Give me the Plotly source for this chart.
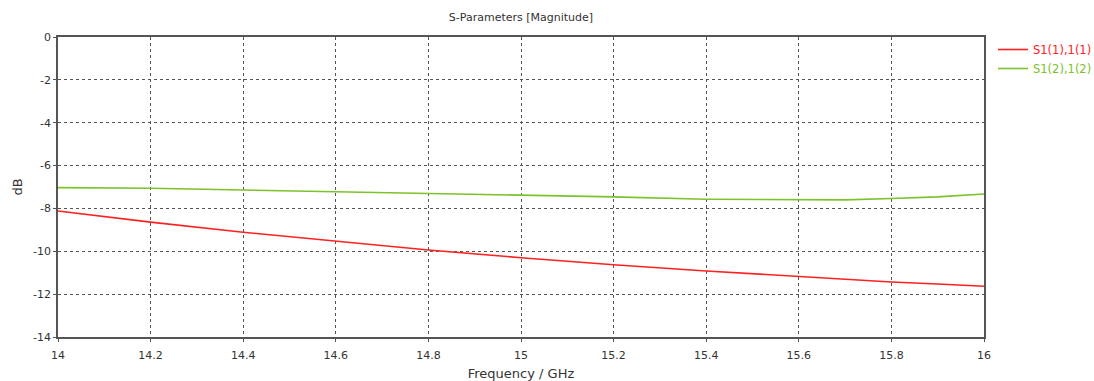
import plotly.graph_objects as go

freq = [14.0, 14.2, 14.4, 14.6, 14.8, 15.0, 15.2, 15.4, 15.6, 15.7, 15.8, 15.9, 16.0]
s11 = [-8.12, -8.64, -9.11, -9.54, -9.94, -10.30, -10.63, -10.92, -11.18, -11.30, -11.43, -11.53, -11.63]
s21 = [-7.03, -7.06, -7.14, -7.22, -7.30, -7.37, -7.46, -7.57, -7.60, -7.60, -7.54, -7.46, -7.33]

xticks = [14, 14.2, 14.4, 14.6, 14.8, 15, 15.2, 15.4, 15.6, 15.8, 16]
xticktext = ["14", "14.2", "14.4", "14.6", "14.8", "15", "15.2", "15.4", "15.6", "15.8", "16"]
yticks = [0, -2, -4, -6, -8, -10, -12, -14]
yticktext = ["0", "-2", "-4", "-6", "-8", "-10", "-12", "-14"]

fig = go.Figure()
fig.add_trace(go.Scatter(x=freq, y=s11, mode="lines",
                         line=dict(color="#ff2020", width=1.6),
                         name="<span style='color:#ff2020'>S1(1),1(1)</span>"))
fig.add_trace(go.Scatter(x=freq, y=s21, mode="lines",
                         line=dict(color="#7cc22a", width=1.6),
                         name="<span style='color:#7cc22a'>S1(2),1(2)</span>"))

font = dict(family="DejaVu Sans", size=11, color="#333333")
fig.update_layout(
    width=1094, height=381,
    margin=dict(l=58, r=110, t=37, b=44, autoexpand=False),
    paper_bgcolor="white", plot_bgcolor="white",
    font=font,
    title=dict(text="S-Parameters [Magnitude]", x=0.5, xref="paper", xanchor="center",
               y=1 - 17 / 381, yanchor="middle", font=dict(family="DejaVu Sans", size=11, color="#333333")),
    showlegend=True,
    legend=dict(x=993 / 1094, y=1 - 35 / 381, xref="container", yref="container",
                xanchor="left", yanchor="top",
                font=dict(family="DejaVu Sans", size=11.5), bgcolor="rgba(0,0,0,0)",
                tracegroupgap=0, itemwidth=30),
)
fig.update_xaxes(range=[14, 16], tickvals=xticks, ticktext=xticktext,
                 showgrid=True, gridcolor="#555555", griddash="dot", gridwidth=1,
                 showline=True, linecolor="#555555", linewidth=1.5, mirror=True,
                 ticks="outside", ticklen=3, tickcolor="#555555", ticklabelstandoff=4,
                 zeroline=False,
                 title=dict(text="Frequency / GHz", standoff=10))
fig.update_yaxes(range=[-14, 0], tickvals=yticks, ticktext=yticktext,
                 showgrid=True, gridcolor="#555555", griddash="dot", gridwidth=1,
                 showline=True, linecolor="#555555", linewidth=1.5, mirror=True,
                 ticks="outside", ticklen=3, tickcolor="#555555",
                 zeroline=False,
                 title=dict(text="dB", standoff=8))

fig.write_html("out.html")
